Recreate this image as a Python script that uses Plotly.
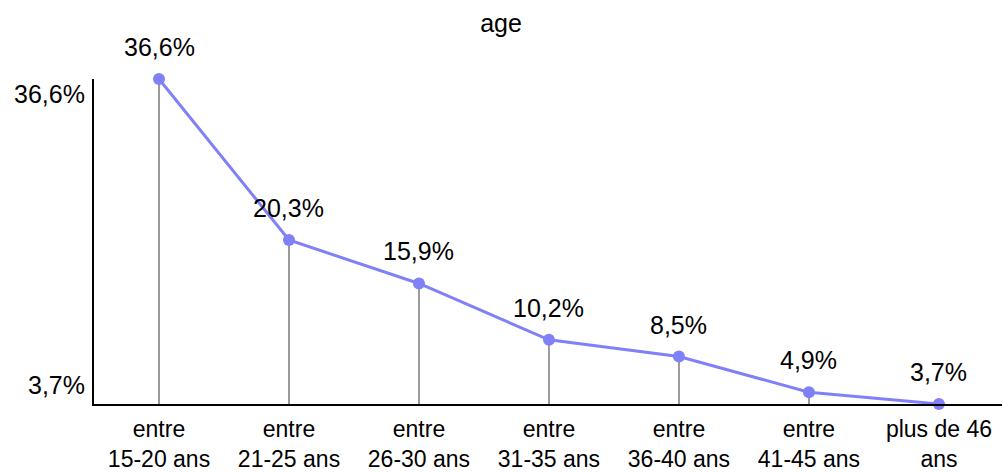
import plotly.graph_objects as go

categories = ['entre<br>15-20 ans', 'entre<br>21-25 ans', 'entre<br>26-30 ans', 'entre<br>31-35 ans',
              'entre<br>36-40 ans', 'entre<br>41-45 ans', 'plus de 46<br>ans']
values = [36.6, 20.3, 15.9, 10.2, 8.5, 4.9, 3.7]
ytick_vals = [3.7, 36.6]
ytick_text = ['3,7%', '36,6%']

FONT = 'Liberation Sans, Arial, sans-serif'
ymin = min(values)

fig = go.Figure()
# droplines down to the x axis
fig.add_trace(go.Scatter(
    x=categories, y=values, mode='markers',
    marker=dict(size=0.1, color='rgba(0,0,0,0)'),
    error_y=dict(type='data', symmetric=False, array=[0] * len(values),
                 arrayminus=[v - ymin for v in values], width=0,
                 color='#9a9a9a', thickness=2),
    hoverinfo='skip', showlegend=False, cliponaxis=False))
fig.add_trace(go.Scatter(
    x=categories, y=values, mode='lines+markers',
    line=dict(color='#8080f8', width=3),
    marker=dict(size=12, color='#8080f8'),
    showlegend=False, cliponaxis=False))

# value labels above points
for c, v in zip(categories, values):
    fig.add_annotation(x=c, y=v, text=f'{v:.1f}%'.replace('.', ','), showarrow=False,
                       yanchor='middle', yshift=32, font=dict(size=25, color='black'))

# y tick labels (placed inside the axis extent like the original)
for val, txt, shift in zip(ytick_vals, ytick_text, [19, -15]):
    fig.add_annotation(x=0, xref='paper', y=val, text=txt, showarrow=False,
                       xanchor='right', xshift=-7, yanchor='middle', yshift=shift,
                       font=dict(size=25, color='black'))

fig.update_layout(
    title=dict(text='age', x=0.5, xanchor='center', y=1 - 23 / 472, yanchor='middle',
               font=dict(size=25, color='black', family=FONT)),
    font=dict(family=FONT, size=23, color='black'),
    width=1002, height=472,
    margin=dict(l=94, r=0, t=79, b=68),
    plot_bgcolor='white', paper_bgcolor='white',
    xaxis=dict(showgrid=False, showline=True, linecolor='black', linewidth=2,
               range=[-0.5, 6.485], ticks='', tickfont=dict(size=23), zeroline=False,
               ticklabelstandoff=3, automargin=False),
    yaxis=dict(showgrid=False, showline=True, linecolor='black', linewidth=2,
               range=[ymin, max(values)], showticklabels=False, ticks='', zeroline=False,
               automargin=False),
)

fig.write_html("out.html", config={'displayModeBar': False},
               post_script="document.body.style.margin='0';")
